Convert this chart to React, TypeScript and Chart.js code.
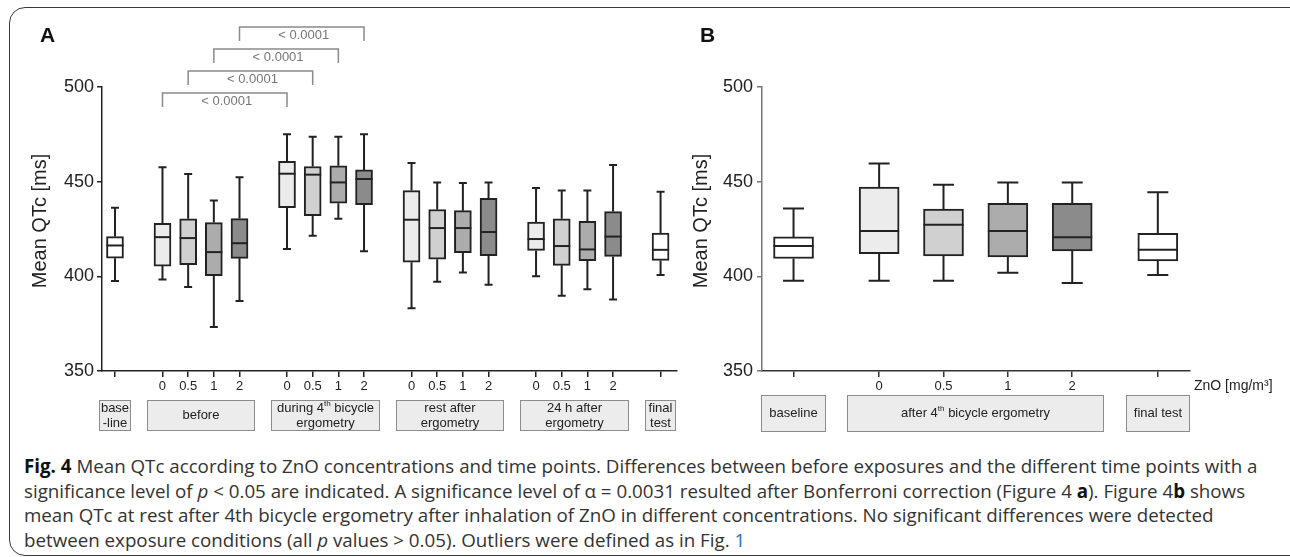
import React, { useEffect, useLayoutEffect, useRef } from "react";
import { Chart, registerables } from "chart.js";

Chart.register(...registerables);

const FONT = "'Liberation Sans', Arial, Helvetica, sans-serif";
const CAPTION_FONT = "'Open Sans', 'Noto Sans', sans-serif";

// ---------------- Panel A data ----------------
const groupLabelsA = ["base\n-line", "before", "during 4th bicycle\nergometry", "rest after\nergometry", "24 h after\nergometry", "final\ntest"];
const groupSizesA = [1, 4, 4, 4, 4, 1];
const tickLabelsA = ["", "0", "0.5", "1", "2", "0", "0.5", "1", "2", "0", "0.5", "1", "2", "0", "0.5", "1", "2", ""];
const doseIndexA = [-1, 0, 1, 2, 3, 0, 1, 2, 3, 0, 1, 2, 3, 0, 1, 2, 3, -1];
const whiskerLowA = [397.5, 398.3, 394.4, 373.2, 387.0, 414.4, 421.4, 430.4, 413.2, 383.2, 397.2, 402.0, 395.5, 400.0, 389.8, 393.2, 387.7, 400.7];
const q1A = [409.6, 405.4, 406.2, 400.4, 409.5, 436.2, 432.1, 438.6, 437.9, 407.5, 409.0, 412.5, 410.9, 413.7, 405.8, 408.3, 410.5, 408.4];
const medianA = [416.3, 420.7, 420.2, 412.8, 417.5, 454.2, 453.7, 449.6, 451.4, 429.9, 425.5, 425.5, 423.4, 419.7, 416.0, 414.2, 421.0, 414.0];
const q3A = [421.0, 428.0, 430.4, 428.4, 430.5, 460.7, 458.0, 458.4, 456.2, 445.3, 435.3, 434.7, 441.2, 428.6, 430.4, 429.0, 434.2, 422.8];
const whiskerHighA = [436.2, 457.6, 454.0, 440.0, 452.3, 475.1, 473.7, 473.7, 475.1, 459.8, 449.6, 449.3, 449.6, 446.7, 445.3, 445.3, 458.8, 444.7];
const sigPairsA = [[1, 5], [2, 6], [3, 7], [4, 8]];
const sigLabelsA = ["< 0.0001", "< 0.0001", "< 0.0001", "< 0.0001"];

// ---------------- Panel B data ----------------
const groupLabelsB = ["baseline", "after 4th bicycle ergometry", "final test"];
const groupSizesB = [1, 4, 1];
const tickLabelsB = ["", "0", "0.5", "1", "2", ""];
const doseIndexB = [-1, 0, 1, 2, 3, -1];
const whiskerLowB = [397.7, 397.7, 397.7, 401.9, 396.5, 400.7];
const q1B = [409.4, 412.0, 410.8, 410.3, 413.4, 408.2];
const medianB = [416.0, 423.9, 427.2, 423.9, 420.6, 414.0];
const q3B = [420.8, 447.2, 435.5, 438.6, 438.5, 422.7];
const whiskerHighB = [435.8, 459.6, 448.4, 449.5, 449.5, 444.4];

// ---------------- shared ----------------
const yTickValues = [350, 400, 450, 500];
const yTitle = "Mean QTc [ms]";
const doseColors = ["#ebeceb", "#d0d0d0", "#acacac", "#8b8b8b"];
const controlColor = "#ffffff";

function layoutPositions(sizes: number[], gap: number): number[] {
  const out: number[] = [];
  let x = 0;
  sizes.forEach((n, g) => {
    if (g > 0) x += gap;
    for (let i = 0; i < n; i++) {
      out.push(x);
      if (i < n - 1) x += 1;
    }
  });
  return out;
}

function drawRich(ctx: CanvasRenderingContext2D, text: string, cx: number, cy: number, size: number, color: string) {
  const m = text.match(/^(.*\d)(th)(.*)$/);
  ctx.fillStyle = color;
  ctx.textBaseline = "middle";
  const main = `${size}px ${FONT}`;
  const sup = `${Math.round(size * 0.62)}px ${FONT}`;
  if (!m) {
    ctx.font = main;
    ctx.textAlign = "center";
    ctx.fillText(text, cx, cy);
    return;
  }
  ctx.font = main;
  const wa = ctx.measureText(m[1]).width;
  const wc = ctx.measureText(m[3]).width;
  ctx.font = sup;
  const wb = ctx.measureText(m[2]).width;
  let x = cx - (wa + wb + wc) / 2;
  ctx.textAlign = "left";
  ctx.font = main;
  ctx.fillText(m[1], x, cy);
  x += wa;
  ctx.font = sup;
  ctx.fillText(m[2], x, cy - size * 0.33);
  x += wb;
  ctx.font = main;
  ctx.fillText(m[3], x, cy);
}

type PanelCfg = {
  groupLabels: string[];
  groupSizes: number[];
  groupGap: number;
  tickLabels: string[];
  doseIndex: number[];
  low: number[];
  q1: number[];
  med: number[];
  q3: number[];
  high: number[];
  xMinPad: number;
  xMaxPad: number;
  top: number;
  padRight: number;
  yAxisWidth: number;
  xAxisHeight: number;
  boxWidth: number;
  capWidth: number;
  groupPad: number;
  groupBoxOffset: number;
  groupBoxHeight: number;
  groupFont: number;
  lineGap: number;
  yAxisColor: string;
  xAxisColor: string;
  tickPadY: number;
  titleX: number;
  titleY: number;
  letter: string;
  letterX: number;
  letterY: number;
  sigPairs?: number[][];
  sigLabels?: string[];
  extraLabel?: string;
};

function buildChart(canvas: HTMLCanvasElement, p: PanelCfg) {
  const pos = layoutPositions(p.groupSizes, p.groupGap);
  const colors = p.doseIndex.map((d) => (d < 0 ? controlColor : doseColors[d]));
  const data = pos.map((x, i) => ({ x, y: [p.q1[i], p.q3[i]] }));
  const ink = "#222";

  const extras = {
    id: "boxExtras",
    beforeDatasetsDraw(chart: any) {
      const { ctx } = chart;
      const xs = chart.scales.x;
      const ys = chart.scales.y;
      ctx.save();
      ctx.strokeStyle = ink;
      ctx.lineWidth = 2;
      pos.forEach((v, i) => {
        const x = xs.getPixelForValue(v);
        const yHi = ys.getPixelForValue(p.high[i]);
        const yQ3 = ys.getPixelForValue(p.q3[i]);
        const yQ1 = ys.getPixelForValue(p.q1[i]);
        const yLo = ys.getPixelForValue(p.low[i]);
        ctx.beginPath();
        ctx.moveTo(x, yQ3);
        ctx.lineTo(x, yHi);
        ctx.moveTo(x - p.capWidth / 2, yHi);
        ctx.lineTo(x + p.capWidth / 2, yHi);
        ctx.moveTo(x, yQ1);
        ctx.lineTo(x, yLo);
        ctx.moveTo(x - p.capWidth / 2, yLo);
        ctx.lineTo(x + p.capWidth / 2, yLo);
        ctx.stroke();
      });
      ctx.restore();
    },
    afterDatasetsDraw(chart: any) {
      const { ctx } = chart;
      const ys = chart.scales.y;
      const meta = chart.getDatasetMeta(0);
      ctx.save();
      ctx.strokeStyle = ink;
      ctx.lineWidth = 2;
      meta.data.forEach((bar: any, i: number) => {
        const y = ys.getPixelForValue(p.med[i]);
        ctx.beginPath();
        ctx.moveTo(bar.x - bar.width / 2, y);
        ctx.lineTo(bar.x + bar.width / 2, y);
        ctx.stroke();
      });
      ctx.restore();
    },
    afterDraw(chart: any) {
      const { ctx, chartArea } = chart;
      const xs = chart.scales.x;
      ctx.save();
      // significance brackets
      (p.sigPairs || []).forEach(([a, b], level) => {
        const x1 = xs.getPixelForValue(pos[a]);
        const x2 = xs.getPixelForValue(pos[b]);
        const topY = chartArea.top + 6 - level * 22;
        ctx.strokeStyle = "#8a8a8a";
        ctx.lineWidth = 1.5;
        ctx.beginPath();
        ctx.moveTo(x1, topY + 14);
        ctx.lineTo(x1, topY);
        ctx.lineTo(x2, topY);
        ctx.lineTo(x2, topY + 14);
        ctx.stroke();
        ctx.fillStyle = "#777";
        ctx.font = `13px ${FONT}`;
        ctx.textAlign = "center";
        ctx.textBaseline = "middle";
        ctx.fillText((p.sigLabels || [])[level], (x1 + x2) / 2 + 2, topY + 8);
      });
      // group boxes
      let start = 0;
      p.groupSizes.forEach((n, g) => {
        const x1 = Math.round(xs.getPixelForValue(pos[start] - p.groupPad));
        const x2 = Math.round(xs.getPixelForValue(pos[start + n - 1] + p.groupPad));
        const top = Math.round(chartArea.bottom + p.groupBoxOffset);
        const h = p.groupBoxHeight;
        ctx.fillStyle = "#ececec";
        ctx.fillRect(x1, top, x2 - x1, h);
        ctx.strokeStyle = "#8c8c8c";
        ctx.lineWidth = 1;
        ctx.strokeRect(x1 + 0.5, top + 0.5, x2 - x1 - 1, h - 1);
        const lines = p.groupLabels[g].split("\n");
        lines.forEach((line, li) => {
          const cy = top + h / 2 + (li - (lines.length - 1) / 2) * p.lineGap;
          drawRich(ctx, line, (x1 + x2) / 2, cy, p.groupFont, ink);
        });
        start += n;
      });
      // y axis title
      ctx.save();
      ctx.translate(p.titleX, p.titleY);
      ctx.rotate(-Math.PI / 2);
      ctx.fillStyle = ink;
      ctx.font = `20px ${FONT}`;
      ctx.textAlign = "center";
      ctx.textBaseline = "middle";
      ctx.fillText(yTitle, 0, 0);
      ctx.restore();
      // panel letter
      ctx.fillStyle = "#111";
      ctx.font = `bold 21px ${FONT}`;
      ctx.textAlign = "left";
      ctx.textBaseline = "alphabetic";
      ctx.fillText(p.letter, p.letterX, p.letterY);
      // extra axis label
      if (p.extraLabel) {
        ctx.fillStyle = ink;
        ctx.font = `14px ${FONT}`;
        ctx.textAlign = "left";
        ctx.textBaseline = "middle";
        ctx.fillText(p.extraLabel, chartArea.right + 4, chartArea.bottom + 15);
      }
      ctx.restore();
    },
  };

  return new Chart(canvas, {
    type: "bar",
    data: {
      datasets: [
        {
          data: data as any,
          backgroundColor: colors,
          borderColor: ink,
          borderWidth: 2,
          borderSkipped: false,
          barThickness: p.boxWidth,
        } as any,
      ],
    },
    options: {
      responsive: false,
      animation: false,
      devicePixelRatio: 1,
      events: [],
      layout: { padding: { left: 0, top: p.top, right: p.padRight, bottom: 0 } },
      plugins: { legend: { display: false }, tooltip: { enabled: false } },
      scales: {
        x: {
          type: "linear",
          offset: false,
          min: pos[0] - p.xMinPad,
          max: pos[pos.length - 1] + p.xMaxPad,
          afterBuildTicks: (s: any) => {
            s.ticks = pos.map((v) => ({ value: v }));
          },
          afterFit: (s: any) => {
            s.height = p.xAxisHeight;
          },
          ticks: {
            autoSkip: false,
            maxRotation: 0,
            minRotation: 0,
            padding: 2,
            color: ink,
            font: { family: FONT, size: 13 },
            callback: (_v: any, i: number) => p.tickLabels[i],
          },
          grid: {
            offset: false,
            drawOnChartArea: false,
            drawTicks: true,
            tickLength: 6,
            color: p.xAxisColor,
            tickColor: p.xAxisColor,
            lineWidth: 1.5,
          },
          border: { display: true, color: p.xAxisColor, width: 1.5 },
        } as any,
        y: {
          type: "linear",
          min: 350,
          max: 500,
          beginAtZero: false,
          afterBuildTicks: (s: any) => {
            s.ticks = yTickValues.map((v) => ({ value: v }));
          },
          afterFit: (s: any) => {
            s.width = p.yAxisWidth;
          },
          ticks: {
            padding: p.tickPadY,
            color: ink,
            font: { family: FONT, size: 18 },
          },
          grid: {
            drawOnChartArea: false,
            drawTicks: true,
            tickLength: 5,
            color: p.yAxisColor,
            tickColor: p.yAxisColor,
            lineWidth: 1.5,
          },
          border: { display: true, color: p.yAxisColor, width: 1.5 },
          title: { display: false },
        } as any,
      },
    },
    plugins: [extras],
  });
}

const cfgA: PanelCfg = {
  groupLabels: groupLabelsA,
  groupSizes: groupSizesA,
  groupGap: 1.85,
  tickLabels: tickLabelsA,
  doseIndex: doseIndexA,
  low: whiskerLowA,
  q1: q1A,
  med: medianA,
  q3: q3A,
  high: whiskerHighA,
  xMinPad: 0.506,
  xMaxPad: 0.64,
  top: 87,
  padRight: 13,
  yAxisWidth: 102,
  xAxisHeight: 74,
  boxWidth: 17,
  capWidth: 8,
  groupPad: 0.62,
  groupBoxOffset: 29,
  groupBoxHeight: 31,
  groupFont: 13,
  lineGap: 15,
  yAxisColor: "#222",
  xAxisColor: "#222",
  tickPadY: 3,
  titleX: 40,
  titleY: 221,
  letter: "A",
  letterX: 40,
  letterY: 42,
  sigPairs: sigPairsA,
  sigLabels: sigLabelsA,
};

const cfgB: PanelCfg = {
  groupLabels: groupLabelsB,
  groupSizes: groupSizesB,
  groupGap: 1.33,
  tickLabels: tickLabelsB,
  doseIndex: doseIndexB,
  low: whiskerLowB,
  q1: q1B,
  med: medianB,
  q3: q3B,
  high: whiskerHighB,
  xMinPad: 0.49,
  xMaxPad: 0.5,
  top: 87,
  padRight: 100,
  yAxisWidth: 112,
  xAxisHeight: 74,
  boxWidth: 40,
  capWidth: 21,
  groupPad: 0.5,
  groupBoxOffset: 24,
  groupBoxHeight: 37,
  groupFont: 13,
  lineGap: 15,
  yAxisColor: "#777",
  xAxisColor: "#333",
  tickPadY: 4,
  titleX: 51,
  titleY: 221,
  letter: "B",
  letterX: 50,
  letterY: 42,
  extraLabel: "ZnO [mg/m³]",
};

function Panel({ cfg, left, width }: { cfg: PanelCfg; left: number; width: number }) {
  const ref = useRef<HTMLCanvasElement>(null);
  useEffect(() => {
    if (!ref.current) return;
    const chart = buildChart(ref.current, cfg);
    return () => chart.destroy();
  }, [cfg]);
  return (
    <canvas
      ref={ref}
      width={width}
      height={445}
      style={{ position: "absolute", left, top: 0, width, height: 445 }}
    />
  );
}

export default function App() {
  const capRef = useRef<HTMLDivElement>(null);
  const line1Ref = useRef<HTMLSpanElement>(null);
  useLayoutEffect(() => {
    const el = line1Ref.current;
    const cap = capRef.current;
    if (!el || !cap) return;
    const w = el.getBoundingClientRect().width;
    if (w > 0) cap.style.fontSize = `${(16 * 1234) / w}px`;
  }, []);

  return (
    <div
      style={{
        position: "absolute",
        left: 0,
        top: 0,
        width: 1290,
        height: 557,
        overflow: "hidden",
        background: "#fff",
      }}
    >
      <div
        style={{
          position: "absolute",
          left: 9,
          top: 7,
          width: 1320,
          height: 549,
          boxSizing: "border-box",
          border: "1.5px solid #3a3a3a",
          borderRadius: 16,
        }}
      />
      <Panel cfg={cfgA} left={0} width={690} />
      <Panel cfg={cfgB} left={650} width={640} />
      <div
        ref={capRef}
        style={{
          position: "absolute",
          left: 24,
          top: 454,
          fontFamily: CAPTION_FONT,
          fontSize: 16,
          lineHeight: "24.5px",
          color: "#333",
          whiteSpace: "nowrap",
        }}
      >
        <div>
          <span ref={line1Ref}>
            <b style={{ color: "#111" }}>Fig. 4</b> Mean QTc according to ZnO concentrations and time points. Differences between before exposures and the different time points with a
          </span>
        </div>
        <div>
          significance level of <i>p</i> &lt; 0.05 are indicated. A significance level of α = 0.0031 resulted after Bonferroni correction (Figure 4 <b style={{ color: "#111" }}>a</b>). Figure 4<b style={{ color: "#111" }}>b</b> shows
        </div>
        <div>
          mean QTc at rest after 4th bicycle ergometry after inhalation of ZnO in different concentrations. No significant differences were detected
        </div>
        <div>
          between exposure conditions (all <i>p</i> values &gt; 0.05). Outliers were defined as in Fig. <span style={{ color: "#2d6fb7" }}>1</span>
        </div>
      </div>
    </div>
  );
}
